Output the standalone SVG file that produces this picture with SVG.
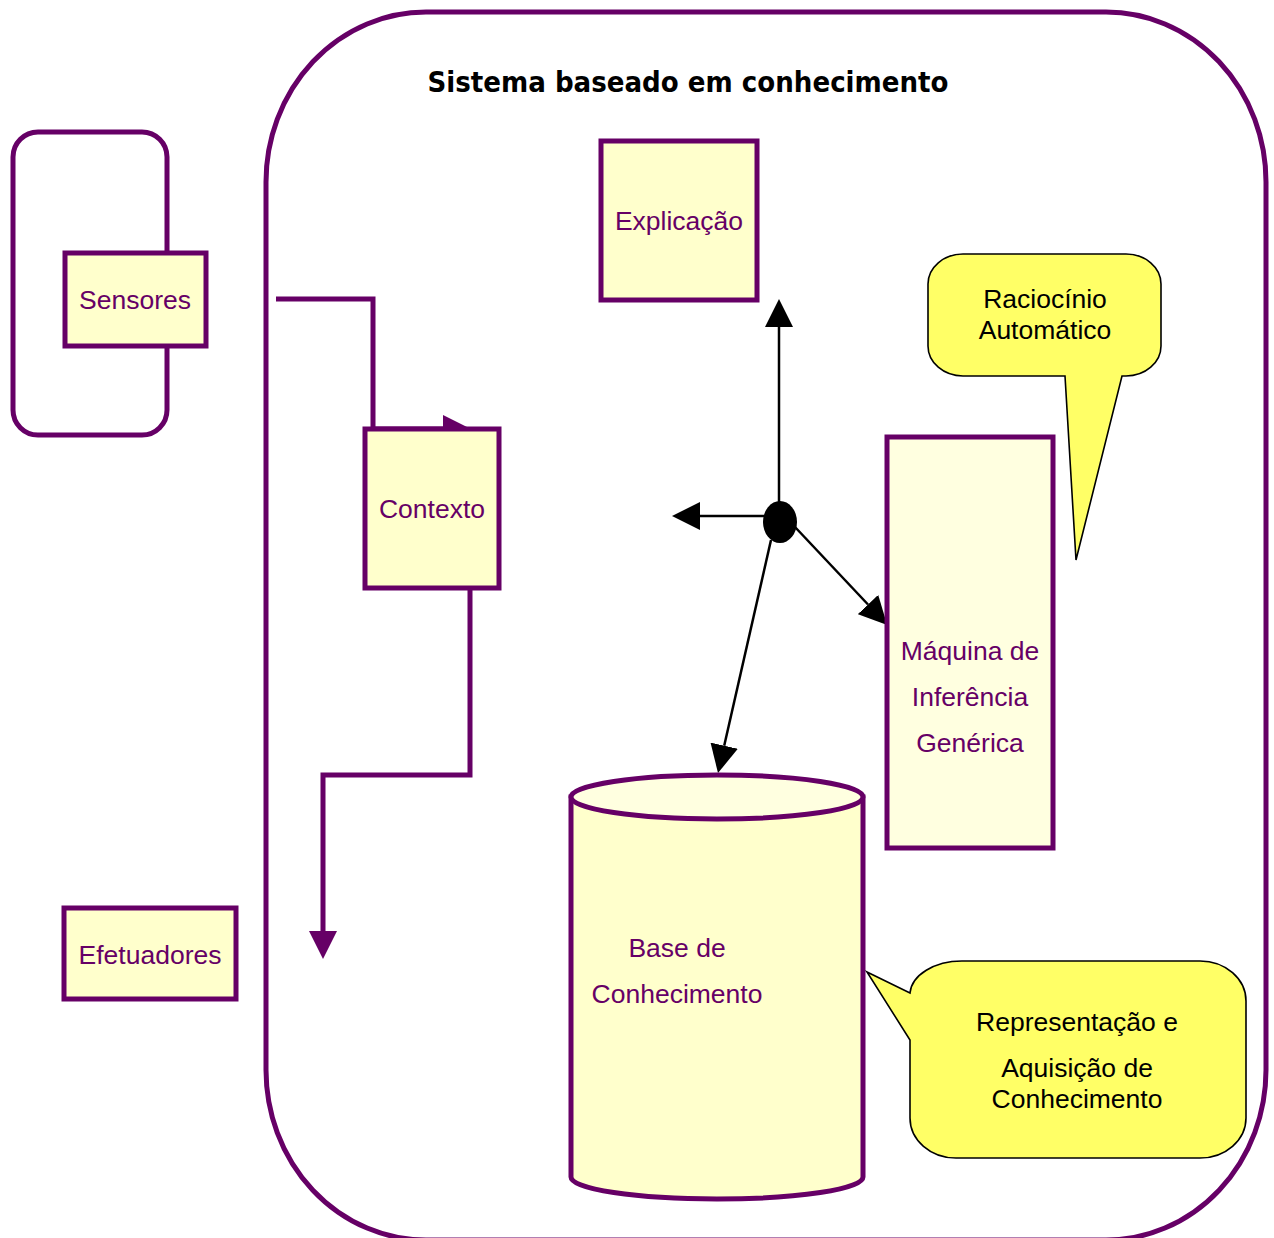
<svg xmlns="http://www.w3.org/2000/svg" width="1274" height="1238" viewBox="0 0 1274 1238">
<defs>
<style>
.frame{fill:none;stroke:#660066;stroke-width:5}
.box{fill:#FFFFCC;stroke:#660066;stroke-width:5}
.lbl{font-family:"Liberation Sans",Arial,sans-serif;font-size:26.5px;fill:#660066;text-anchor:middle}
.clbl{font-family:"Liberation Sans",Arial,sans-serif;font-size:26.5px;fill:#000;text-anchor:middle}
.call{fill:#FFFF66;stroke:#000;stroke-width:1.6}
.pconn{fill:none;stroke:#660066;stroke-width:5;marker-end:url(#pa)}
.bconn{fill:none;stroke:#000;stroke-width:2.5;marker-end:url(#ba)}
</style>
<marker id="pa" markerUnits="userSpaceOnUse" markerWidth="28" markerHeight="28" viewBox="0 0 28 28" refX="0" refY="14" orient="auto">
<path d="M0,0 L28,14 L0,28 Z" fill="#660066"/>
</marker>
<marker id="ba" markerUnits="userSpaceOnUse" markerWidth="28" markerHeight="28" viewBox="0 0 28 28" refX="0" refY="14" orient="auto">
<path d="M0,0 L28,14 L0,28 Z" fill="#000"/>
</marker>
</defs>
<rect width="1274" height="1238" fill="#fff"/>
<g id="sistema">
<rect class="frame" x="266" y="12" width="1000" height="1228" rx="160" ry="170"/>
<text x="688" y="92" font-family="DejaVu Sans,Verdana,sans-serif" font-weight="bold" font-size="29" text-anchor="middle" textLength="521" lengthAdjust="spacingAndGlyphs">Sistema baseado em conhecimento</text>
</g>
<g id="ambiente">
<rect class="frame" x="13" y="132" width="154" height="303" rx="25" ry="25"/>
</g>
<g id="connectors">
<polyline class="pconn" points="276,299 373,299 373,429 443,429"/>
<polyline class="pconn" points="470,590 470,775 323,775 323,931"/>
<line class="bconn" x1="779" y1="505" x2="779" y2="327"/>
<line class="bconn" x1="765" y1="516" x2="700" y2="516"/>
<line class="bconn" x1="795" y1="527" x2="868" y2="604.5"/>
<line class="bconn" x1="771" y1="540" x2="724.2" y2="745.7"/>
<ellipse cx="780" cy="522" rx="17" ry="21" fill="#000"/>
</g>
<g id="sensores">
<rect class="box" x="65" y="253" width="141" height="93"/>
<text class="lbl" x="135" y="309">Sensores</text>
</g>
<g id="efetuadores">
<rect class="box" x="64" y="908" width="172" height="91"/>
<text class="lbl" x="150" y="964">Efetuadores</text>
</g>
<g id="explicacao">
<rect class="box" x="601" y="141" width="156" height="159"/>
<text class="lbl" x="679" y="230">Explicação</text>
</g>
<g id="contexto">
<rect class="box" x="365" y="429" width="134" height="159"/>
<text class="lbl" x="432" y="518">Contexto</text>
</g>
<g id="maquina">
<rect class="box" x="887" y="437" width="166" height="411" style="fill:#FFFFE0"/>
<text class="lbl" x="970" y="660">Máquina de</text>
<text class="lbl" x="970" y="706">Inferência</text>
<text class="lbl" x="970" y="752">Genérica</text>
</g>
<g id="base">
<path class="box" d="M571,797 L571,1177 A146,22 0 0 0 863,1177 L863,797 Z"/>
<ellipse cx="717" cy="797" rx="146" ry="22" fill="#FFFFE0" stroke="#660066" stroke-width="5"/>
<text class="lbl" x="677" y="957">Base de</text>
<text class="lbl" x="677" y="1003">Conhecimento</text>
</g>
<g id="raciocinio">
<path class="call" d="M963,254 L1126,254 A35,30 0 0 1 1161,284 L1161,346 A35,30 0 0 1 1126,376 L1122,376 L1076,560 L1065,376 L963,376 A35,30 0 0 1 928,346 L928,284 A35,30 0 0 1 963,254 Z"/>
<text class="clbl" x="1045" y="308">Raciocínio</text>
<text class="clbl" x="1045" y="339">Automático</text>
</g>
<g id="representacao">
<path class="call" d="M962,961 L1200,961 A46,40 0 0 1 1246,1001 L1246,1118 A46,40 0 0 1 1200,1158 L956,1158 A46,40 0 0 1 910,1118 L910,1040 L867,972 L910,993 A52,34 0 0 1 962,961 Z"/>
<text class="clbl" x="1077" y="1031">Representação e</text>
<text class="clbl" x="1077" y="1077">Aquisição de</text>
<text class="clbl" x="1077" y="1108">Conhecimento</text>
</g>
</svg>
